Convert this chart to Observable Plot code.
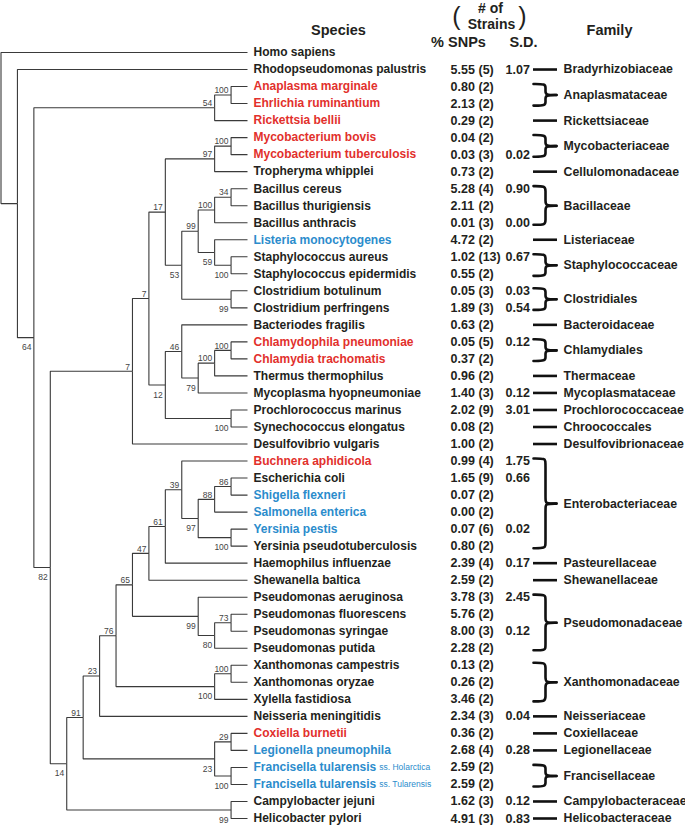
<!DOCTYPE html>
<html><head><meta charset="utf-8">
<script src="https://cdn.jsdelivr.net/npm/d3@7"></script>
<script src="https://cdn.jsdelivr.net/npm/@observablehq/plot@0.6"></script>
<style>body{margin:0;background:#fff}svg{display:block}</style>
</head><body><div id="chart"></div>
<script>
// ---------- data ----------
const species = ["Homo sapiens","Rhodopseudomonas palustris","Anaplasma marginale","Ehrlichia ruminantium","Rickettsia bellii","Mycobacterium bovis","Mycobacterium tuberculosis","Tropheryma whipplei","Bacillus cereus","Bacillus thurigiensis","Bacillus anthracis","Listeria monocytogenes","Staphylococcus aureus","Staphylococcus epidermidis","Clostridium botulinum","Clostridium perfringens","Bacteriodes fragilis","Chlamydophila pneumoniae","Chlamydia trachomatis","Thermus thermophilus","Mycoplasma hyopneumoniae","Prochlorococcus marinus","Synechococcus elongatus","Desulfovibrio vulgaris","Buchnera aphidicola","Escherichia coli","Shigella flexneri","Salmonella enterica","Yersinia pestis","Yersinia pseudotuberculosis","Haemophilus influenzae","Shewanella baltica","Pseudomonas aeruginosa","Pseudomonas fluorescens","Pseudomonas syringae","Pseudomonas putida","Xanthomonas campestris","Xanthomonas oryzae","Xylella fastidiosa","Neisseria meningitidis","Coxiella burnetii","Legionella pneumophila","Francisella tularensis","Francisella tularensis","Campylobacter jejuni","Helicobacter pylori"];
const snpPct = [null,5.55,0.80,2.13,0.29,0.04,0.03,0.73,5.28,2.11,0.01,4.72,1.02,0.55,0.05,1.89,0.63,0.05,0.37,0.96,1.40,2.02,0.08,1.00,0.99,1.65,0.07,0.00,0.07,0.80,2.39,2.59,3.78,5.76,8.00,2.28,0.13,0.26,3.46,2.34,0.36,2.68,2.59,2.59,1.62,4.91];
const strains = [null,5,2,2,2,2,3,2,4,2,3,2,13,2,3,3,2,5,2,2,3,9,2,2,4,9,2,2,6,2,4,2,3,2,3,2,2,2,2,3,2,4,2,2,3,3];
const sdev = [null,1.07,null,null,null,null,0.02,null,0.90,null,0.00,null,0.67,null,0.03,0.54,null,0.12,null,null,0.12,3.01,null,null,1.75,0.66,null,null,0.02,null,0.17,null,2.45,null,0.12,null,null,null,null,0.04,null,0.28,null,null,0.12,0.83];
const redSpecies = ["Anaplasma marginale","Ehrlichia ruminantium","Rickettsia bellii","Mycobacterium bovis","Mycobacterium tuberculosis","Chlamydophila pneumoniae","Chlamydia trachomatis","Buchnera aphidicola","Coxiella burnetii"];
const blueSpecies = ["Listeria monocytogenes","Shigella flexneri","Salmonella enterica","Yersinia pestis","Legionella pneumophila","Francisella tularensis"];
const subspeciesRow = [42, 43];
const subspeciesName = ["ss. Holarctica", "ss. Tularensis"];
const families = ["Bradyrhizobiaceae","Anaplasmataceae","Rickettsiaceae","Mycobacteriaceae","Cellulomonadaceae","Bacillaceae","Listeriaceae","Staphylococcaceae","Clostridiales","Bacteroidaceae","Chlamydiales","Thermaceae","Mycoplasmataceae","Prochlorococcaceae","Chroococcales","Desulfovibrionaceae","Enterobacteriaceae","Pasteurellaceae","Shewanellaceae","Pseudomonadaceae","Xanthomonadaceae","Neisseriaceae","Coxiellaceae","Legionellaceae","Francisellaceae","Campylobacteraceae","Helicobacteraceae"];
const famFirst = [1,2,4,5,7,8,11,12,14,16,17,19,20,21,22,23,24,30,31,32,36,39,40,41,42,44,45];
const famLast  = [1,3,4,6,7,10,11,13,15,16,18,19,20,21,22,23,29,30,31,35,38,39,40,41,43,44,45];
// tree topology (leaf = row index in species), internal labels = bootstrap support
const treeNewick = "(0,(1,(((2,3)100,4)54,((((((5,6)100,7)97,((((8,9)34,10)100,(11,(12,13)100)59)99,(14,15)99)53)17,((16,(((17,18)100,19)100,20)79)46,(21,22)100)12)7,23)7,((((((((24,(((25,26)86,27)88,(28,29)100)97)39,30)61,31)47,(32,((33,34)73,35)80)99)65,((36,37)100,38)100)76,39)23,((40,41)29,(42,43)100)23)91,(44,45)99)14)82)64))";

// ---------- styling / layout ----------
const RED = "#e2302c", BLUE = "#2b8ccc", INK = "#231f20", TREE = "#3a3a3a";
const FONT = "'Liberation Sans', Arial, Helvetica, sans-serif";
const LEAF = 15;
const X_RANGE = [0.5, 247];
const U = (X_RANGE[1] - X_RANGE[0]) / LEAF;
const at = px => LEAF + px / U; // px to the right of leaf tips, in tree-level units
const COL = {name: 6, snp: 203, n: 231, sd: 258, famL: 286, famS: 298, famTip: 309, famText: 316};
const NAME_SIZE = 12;

// ---------- tree layout ----------
function parseNewick(s) {
  let i = 0;
  function node() {
    const n = {};
    if (s[i] === "(") {
      i++; n.children = [];
      n.children.push(node());
      while (s[i] === ",") { i++; n.children.push(node()); }
      i++; // ')'
    }
    let lab = "";
    while (i < s.length && !",()".includes(s[i])) lab += s[i++];
    if (n.children) n.support = lab; else n.leaf = +lab;
    return n;
  }
  return node();
}
const root = d3.hierarchy(parseNewick(treeNewick));
root.eachAfter(d => {
  d.level = LEAF - d.height;
  d.row = d.children ? (d.children[0].row + d.children[d.children.length - 1].row) / 2 : d.data.leaf;
});
const links = root.descendants().filter(d => d.parent)
  .map(d => ({x1: d.parent.level, y1: d.parent.row, x2: d.level, y2: d.row}));
const supports = root.descendants().filter(d => d.children && d.data.support)
  .map(d => ({level: d.level, row: d.row, label: d.data.support, above: d.parent.children[0] === d}));

// ---------- table rows ----------
const rows = species.map((name, i) => ({
  i, name, snp: snpPct[i], n: strains[i], sd: sdev[i],
  color: redSpecies.includes(name) ? RED : blueSpecies.includes(name) ? BLUE : INK
}));
const ctx = document.createElement("canvas").getContext("2d");
ctx.font = `bold ${NAME_SIZE}px ${FONT}`;
const subs = subspeciesRow.map((r, k) => ({row: r, text: subspeciesName[k], x: at(COL.name + ctx.measureText(species[r]).width + 3)}));

const fams = families.map((f, k) => ({name: f, first: famFirst[k], last: famLast[k], mid: (famFirst[k] + famLast[k]) / 2}));
const singles = fams.filter(f => f.first === f.last);
const braces = [];
fams.filter(f => f.first !== f.last).forEach((f, k) => {
  const T = f.first - 0.15, B = f.last + 0.12, M = f.mid, r = 0.22;
  const L = at(COL.famL), S = at(COL.famS), P = at(COL.famTip);
  [[T, 1], [B, -1]].forEach(([E, s], h) => {
    [[L, E], [S, E], [S, E + s * r], [S, M - s * r], [S, M], [P, M]]
      .forEach(([x, y]) => braces.push({x, y, z: k * 2 + h}));
  });
});

const fmt = d3.format(".2f");
const headerText = (text, cx, cy, size = 14.5, weight = "bold") =>
  Plot.text([text], {x: () => LEAF, dx: cx - X_RANGE[1], frameAnchor: "top", dy: cy, text: d => d,
    fontSize: size, fontWeight: weight, fill: INK, textAnchor: "middle", lineAnchor: "middle"});

const chart = Plot.plot({
  width: 685, height: 825, margin: 0,
  x: {domain: [0, LEAF], range: X_RANGE, axis: null},
  y: {domain: [0, 45], range: [52, 818], axis: null},
  style: {fontFamily: FONT, background: "#fff", overflow: "visible"},
  marks: [
    // tree
    Plot.link(links, {x1: "x1", y1: "y1", x2: "x2", y2: "y2", curve: "step-before", stroke: TREE, strokeWidth: 1.1}),
    Plot.text(supports.filter(d => d.above), {x: "level", y: "row", text: "label", dx: -2.5, dy: -4.5, textAnchor: "end", fontSize: 8.5, fill: "#444"}),
    Plot.text(supports.filter(d => !d.above), {x: "level", y: "row", text: "label", dx: -2.5, dy: 10, textAnchor: "end", fontSize: 8.5, fill: "#444"}),
    // species
    Plot.text(rows, {x: () => LEAF, y: "i", text: "name", dx: COL.name, textAnchor: "start", fontSize: NAME_SIZE, fontWeight: "bold", fill: "color"}),
    Plot.text(subs, {x: "x", y: "row", text: "text", textAnchor: "start", fontSize: 8.5, fill: BLUE}),
    // values
    Plot.text(rows.filter(d => d.snp != null), {x: () => LEAF, y: "i", text: d => fmt(d.snp), dx: COL.snp, textAnchor: "start", fontSize: 12.5, fontWeight: "bold", fill: INK}),
    Plot.text(rows.filter(d => d.n != null), {x: () => LEAF, y: "i", text: d => `(${d.n})`, dx: COL.n, textAnchor: "start", fontSize: 12.5, fontWeight: "bold", fill: INK}),
    Plot.text(rows.filter(d => d.sd != null), {x: () => LEAF, y: "i", text: d => fmt(d.sd), dx: COL.sd, textAnchor: "start", fontSize: 12.5, fontWeight: "bold", fill: INK}),
    // families
    Plot.ruleY(singles, {y: "first", x1: () => at(COL.famL), x2: () => at(COL.famTip + 1), stroke: "#111", strokeWidth: 2.6}),
    Plot.line(braces, {x: "x", y: "y", z: "z", curve: "basis", stroke: "#111", strokeWidth: 2.6}),
    Plot.text(fams, {x: () => LEAF, y: "mid", text: "name", dx: COL.famText, textAnchor: "start", fontSize: 12.3, fontWeight: "bold", fill: INK}),
    // headers
    headerText("Species", 338, 30),
    headerText("% SNPs", 458, 42),
    headerText("S.D.", 523, 42),
    headerText("# of", 490, 8, 14),
    headerText("Strains", 491, 24, 14),
    headerText("Family", 609, 30),
    headerText("(", 456, 16, 25, "normal"),
    headerText(")", 522, 16, 25, "normal")
  ]
});
document.getElementById("chart").append(chart);
</script>
</body></html>
